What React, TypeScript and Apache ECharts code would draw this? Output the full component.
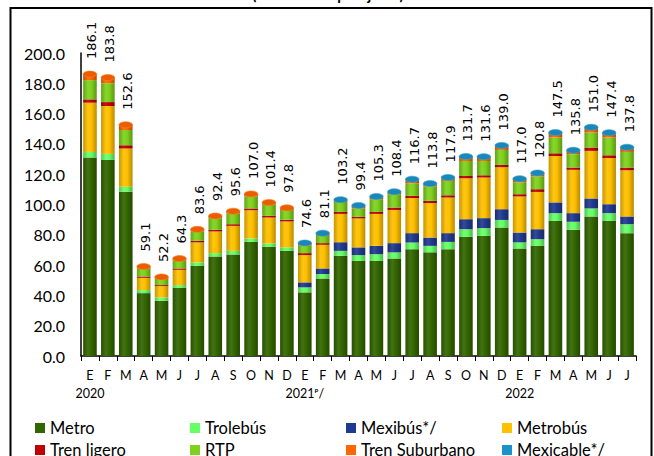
import React, { useEffect, useRef } from "react";
import * as echarts from "echarts";

const categories = [
  "E", "F", "M", "A", "M", "J", "J", "A", "S", "O", "N", "D",
  "E", "F", "M", "A", "M", "J", "J", "A", "S", "O", "N", "D",
  "E", "F", "M", "A", "M", "J", "J",
];
const yearLabels = [
  "2020", "", "", "", "", "", "", "", "", "", "", "",
  "2021ᵖ/", "", "", "", "", "", "", "", "", "", "", "",
  "2022", "", "", "", "", "", "",
];
const totals = [
  186.1, 183.8, 152.6, 59.1, 52.2, 64.3, 83.6, 92.4, 95.6, 107.0, 101.4, 97.8,
  74.6, 81.1, 103.2, 99.4, 105.3, 108.4, 116.7, 113.8, 117.9, 131.7, 131.6, 139.0,
  117.0, 120.8, 147.5, 135.8, 151.0, 147.4, 137.8,
];
const metro = [
  131.0, 129.4, 108.4, 41.5, 36.5, 45.0, 59.5, 65.7, 67.0, 75.3, 72.1, 69.4,
  42.0, 51.2, 66.1, 62.8, 62.8, 64.4, 70.5, 68.4, 70.5, 78.6, 79.3, 84.8,
  71.0, 72.7, 89.2, 83.3, 92.1, 89.2, 81.1,
];
const trolebus = [
  3.7, 4.0, 3.3, 2.0, 2.2, 1.8, 2.3, 2.2, 2.4, 2.3, 2.2, 2.3,
  3.3, 2.9, 3.3, 3.8, 4.4, 4.0, 4.4, 4.3, 4.8, 5.1, 5.1, 5.0,
  4.0, 4.4, 5.1, 5.3, 5.3, 5.1, 5.9,
];
const mexibus = [
  0, 0, 0, 0, 0, 0, 0, 0, 0, 0, 0, 0,
  3.3, 3.7, 5.7, 5.1, 5.5, 6.1, 6.2, 5.5, 5.8, 6.6, 6.6, 7.1,
  6.5, 6.6, 7.1, 5.7, 6.6, 5.9, 5.1,
];
const metrobus = [
  32.5, 31.6, 25.2, 8.1, 7.4, 10.1, 13.2, 14.3, 16.5, 18.6, 17.1, 17.1,
  18.0, 15.6, 18.7, 19.1, 21.1, 21.9, 23.2, 22.7, 23.5, 27.0, 26.8, 27.7,
  23.8, 24.6, 30.6, 28.6, 31.4, 30.5, 30.5,
];
const trenLigero = [
  2.2, 2.6, 2.2, 0.9, 0.7, 0.9, 1.0, 1.1, 1.1, 1.2, 1.1, 1.1,
  1.3, 1.1, 1.3, 1.0, 1.3, 1.6, 1.4, 1.5, 1.5, 1.5, 1.5, 1.5,
  1.5, 1.8, 1.8, 1.5, 2.2, 1.8, 1.8,
];
const rtp = [
  12.7, 12.4, 10.1, 5.4, 4.3, 5.3, 6.3, 7.6, 7.2, 8.0, 7.4, 6.5,
  5.0, 4.8, 6.6, 5.6, 8.4, 8.8, 8.3, 9.5, 9.5, 9.9, 9.4, 9.9,
  7.7, 8.4, 10.4, 8.8, 9.9, 11.7, 10.3,
];
const trenSuburbano = [
  4.0, 3.8, 3.4, 1.2, 1.1, 1.2, 1.3, 1.5, 1.4, 1.6, 1.5, 1.4,
  1.2, 1.3, 1.0, 1.2, 1.1, 1.0, 1.9, 1.2, 1.5, 2.1, 2.0, 2.1,
  1.7, 1.5, 2.3, 1.7, 2.4, 2.2, 2.1,
];
const mexicable = [
  0, 0, 0, 0, 0, 0, 0, 0, 0, 0, 0, 0,
  0.5, 0.5, 0.5, 0.8, 0.7, 0.6, 0.8, 0.7, 0.8, 0.9, 0.9, 0.9,
  0.8, 0.8, 1.0, 0.9, 1.1, 1.0, 1.0,
];
const seriesNames = [
  "Metro", "Trolebús", "Mexibús*/", "Metrobús",
  "Tren ligero", "RTP", "Tren Suburbano", "Mexicable*/",
];
const seriesValues = [metro, trolebus, mexibus, metrobus, trenLigero, rtp, trenSuburbano, mexicable];
const seriesColors = [
  "#336600", "#66FF66", "#213A8F", "#FFC000",
  "#C00000", "#7ED11C", "#FF6600", "#1B93C8",
];

function shade(hex: string, f: number): string {
  const n = parseInt(hex.slice(1), 16);
  const c = [(n >> 16) & 255, (n >> 8) & 255, n & 255].map((v) => {
    const r = f >= 1 ? v + (255 - v) * (f - 1) : v * f;
    return Math.max(0, Math.min(255, Math.round(r)));
  });
  return "rgb(" + c.join(",") + ")";
}

function cylinder(hex: string) {
  return new echarts.graphic.LinearGradient(0, 0, 1, 0, [
    { offset: 0, color: shade(hex, 0.78) },
    { offset: 0.35, color: shade(hex, 1.08) },
    { offset: 0.6, color: hex },
    { offset: 1, color: shade(hex, 0.72) },
  ]);
}

const FONT = "Lato, 'Open Sans', sans-serif";
const BAR_RATIO = 0.76;

export default function App() {
  const ref = useRef<HTMLDivElement>(null);
  useEffect(() => {
    if (!ref.current) return;
    const chart = echarts.init(ref.current, null, { renderer: "svg" });

    const legendCols = [35, 190, 346, 502];
    const legendRows = [418, 440];
    const legends = seriesNames.map((name, i) => ({
      data: [{ name, itemStyle: { color: seriesColors[i] } }],
      left: legendCols[i % 4],
      top: legendRows[Math.floor(i / 4)],
      padding: 0,
      itemWidth: 10,
      itemHeight: 10,
      icon: "rect",
      selectedMode: false,
      textStyle: { fontSize: 16.5, fontFamily: FONT, color: "#000", lineHeight: 20 },
    }));

    const barSeries = seriesNames.map((name, i) => ({
      name,
      type: "bar",
      stack: "total",
      barWidth: BAR_RATIO * 100 + "%",
      data: seriesValues[i],
      itemStyle: { color: cylinder(seriesColors[i]) },
      emphasis: { disabled: true },
    }));

    const capData = totals.map((t, i) => [i, t, mexicable[i] > 0 ? 7 : 6]);

    const option = {
      animation: false,
      backgroundColor: "#fff",
      grid: { left: 81, right: 18, top: 53, bottom: 100, containLabel: false },
      legend: legends,
      xAxis: [
        {
          type: "category",
          data: categories,
          axisLine: { show: true, lineStyle: { color: "#000", width: 1.5 } },
          axisTick: { show: true, length: 5, alignWithLabel: false, lineStyle: { color: "#000", width: 1 } },
          axisLabel: { interval: 0, fontSize: 12.5, fontFamily: FONT, color: "#000", margin: 13 },
        },
        {
          type: "category",
          data: categories,
          position: "bottom",
          axisLine: { show: false },
          axisTick: { show: false },
          axisLabel: {
            interval: 0,
            fontSize: 12.5,
            fontFamily: FONT,
            color: "#000",
            margin: 31,
            formatter: (_v: string, idx: number) => yearLabels[idx],
          },
        },
      ],
      yAxis: {
        type: "value",
        min: 0,
        max: 200,
        interval: 20,
        axisLine: { show: true, lineStyle: { color: "#000", width: 1.5 } },
        axisTick: { show: false },
        splitLine: { show: false },
        axisLabel: {
          fontSize: 16,
          fontFamily: FONT,
          color: "#000",
          margin: 16,
          formatter: (v: number) => v.toFixed(1),
        },
      },
      series: [
        ...barSeries,
        {
          type: "custom",
          name: "caps",
          z: 5,
          clip: false,
          encode: { x: 0, y: 1 },
          data: capData,
          renderItem: (_params: any, api: any) => {
            const i = api.value(0);
            const t = api.value(1);
            const ci = api.value(2);
            const p = api.coord([i, t]);
            const w = api.size([1, 0])[0] * BAR_RATIO;
            return {
              type: "group",
              children: [
                {
                  type: "ellipse",
                  shape: { cx: p[0], cy: p[1], rx: w / 2, ry: 3 },
                  style: { fill: shade(seriesColors[ci], 0.92), stroke: shade(seriesColors[ci], 1.15), lineWidth: 0.6 },
                },
                {
                  type: "text",
                  x: p[0] + 2,
                  y: p[1] - 15,
                  rotation: Math.PI / 2,
                  style: {
                    text: t.toFixed(1),
                    font: "13px 'DejaVu Sans', sans-serif",
                    fill: "#000",
                    align: "left",
                    verticalAlign: "middle",
                  },
                },
              ],
            };
          },
        },
      ],
      graphic: [
        {
          type: "rect",
          shape: { x: 10.5, y: 8, width: 641, height: 470 },
          style: { fill: "none", stroke: "#000", lineWidth: 2 },
          silent: true,
        },
        {
          type: "text",
          x: 328,
          y: -6,
          style: {
            text: "(Millones de pasajeros)",
            font: "bold 15px Lato, sans-serif",
            fill: "#000",
            align: "center",
            verticalAlign: "middle",
          },
          silent: true,
        },
      ],
    };

    chart.setOption(option as any);
    return () => chart.dispose();
  }, []);

  return (
    <div
      ref={ref}
      style={{ position: "absolute", left: 0, top: 0, width: 654, height: 456 }}
    />
  );
}
